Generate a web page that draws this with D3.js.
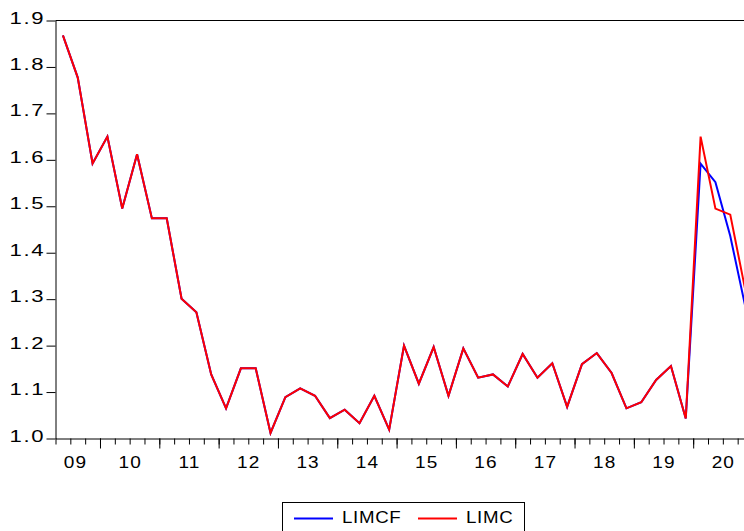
<!DOCTYPE html>
<html>
<head>
<meta charset="utf-8">
<script src="https://cdn.jsdelivr.net/npm/d3@7"></script>
<style>
  body { margin: 0; background: #fff; overflow: hidden; }
  svg text { font-family: Arial, "Liberation Sans", sans-serif; font-size: 17px; fill: #000; }
</style>
</head>
<body>
<svg id="chart"></svg>
<script>
// quarterly series, 2009Q2 .. 2020Q4
var quarters = ["2009Q2","2009Q3","2009Q4",
  "2010Q1","2010Q2","2010Q3","2010Q4",
  "2011Q1","2011Q2","2011Q3","2011Q4",
  "2012Q1","2012Q2","2012Q3","2012Q4",
  "2013Q1","2013Q2","2013Q3","2013Q4",
  "2014Q1","2014Q2","2014Q3","2014Q4",
  "2015Q1","2015Q2","2015Q3","2015Q4",
  "2016Q1","2016Q2","2016Q3","2016Q4",
  "2017Q1","2017Q2","2017Q3","2017Q4",
  "2018Q1","2018Q2","2018Q3","2018Q4",
  "2019Q1","2019Q2","2019Q3","2019Q4",
  "2020Q1","2020Q2","2020Q3","2020Q4"]

var limc = [1.868,1.777,1.592,
  1.650,1.495,1.612,1.474,
  1.474,1.301,1.272,1.138,
  1.065,1.151,1.151,1.012,
  1.089,1.108,1.092,1.044,
  1.062,1.033,1.092,1.019,
  1.200,1.118,1.197,1.092,
  1.194,1.131,1.138,1.112,
  1.182,1.131,1.162,1.068,
  1.160,1.184,1.141,1.065,
  1.078,1.126,1.156,1.043,
  1.650,1.495,1.482,1.322]

var limcf = [1.868,1.777,1.592,
  1.650,1.495,1.612,1.474,
  1.474,1.301,1.272,1.138,
  1.065,1.151,1.151,1.012,
  1.089,1.108,1.092,1.044,
  1.062,1.033,1.092,1.019,
  1.200,1.118,1.197,1.092,
  1.194,1.131,1.138,1.112,
  1.182,1.131,1.162,1.068,
  1.160,1.184,1.141,1.065,
  1.078,1.126,1.156,1.043,
  1.592,1.552,1.436,1.286]

var yearLabels = ["09","10","11","12","13","14","15","16","17","18","19","20"]
var yTicks = [1.0,1.1,1.2,1.3,1.4,1.5,1.6,1.7,1.8,1.9]

var seriesNames = ["LIMCF","LIMC"]
var seriesColors = ["#0000ff","#ff0000"]

var screen = {width:744, height:531}
var plot = {left:55.5, top:20.5, right:752.5, bottom:438.5}

var svg = d3.select("#chart")
    .attr("width", screen.width)
    .attr("height", screen.height)

// one unit per quarter, points sit in the middle of their quarter
var xScale = d3.scaleLinear()
    .domain([0, quarters.length])
    .range([plot.left, plot.right])
var yScale = d3.scaleLinear()
    .domain([1.0, 1.9])
    .range([plot.bottom, plot.top])

// the source font is drawn wider than Arial, so stretch text a bit
var wide = function(sel, x, y, sx) {
    sel.attr("x", 0).attr("y", 0)
       .attr("transform", "translate(" + x + "," + y + ") scale(" + sx + ",1)")
}

// top frame line
svg.append("line")
    .attr("x1", plot.left).attr("x2", plot.right)
    .attr("y1", plot.top).attr("y2", plot.top)
    .attr("stroke", "#000").attr("stroke-width", 1)

// y axis
var yAxis = d3.axisLeft(yScale)
    .tickValues(yTicks)
    .tickFormat(d3.format(".1f"))
    .tickSize(9)
    .tickSizeOuter(0)
var yg = svg.append("g")
    .attr("transform", "translate(" + plot.left + ",0)")
    .call(yAxis)
yg.selectAll("text")
    .style("font-size", "17px")
    .style("font-family", "Arial, 'Liberation Sans', sans-serif")
    .style("letter-spacing", "1.2px")
    .attr("dy", "0.15em")
    .call(wide, -10.5, 0, 1.3)

// x axis: quarter ticks (short), year ticks (long)
var quarterIdx = d3.range(0, quarters.length + 1)
var yearStart = quarterIdx.filter(function(i) {
    return i < quarters.length && quarters[i].slice(4) == "Q1"
})
var xg = svg.append("g")
    .attr("transform", "translate(0," + plot.bottom + ")")
xg.call(d3.axisBottom(xScale)
    .tickValues(quarterIdx)
    .tickSize(6)
    .tickSizeOuter(0)
    .tickFormat(""))
xg.append("g").call(d3.axisBottom(xScale)
    .tickValues(yearStart)
    .tickSize(10)
    .tickSizeOuter(0)
    .tickFormat(""))
    .select(".domain").remove()

// year labels centred on each year (first year is only partly shown)
var labels = svg.append("g")
yearLabels.forEach(function(lab, k) {
    var start = k == 0 ? yearStart[0] - 4 : yearStart[k - 1]
    var cx = xScale(start + 2)
    if (k == 0) cx = (cx + xScale(0) + (xScale(yearStart[0]) - xScale(0)) / 2) / 2 + 1
    labels.append("text")
        .text(lab)
        .attr("text-anchor", "middle")
        .style("letter-spacing", "1px")
        .call(wide, cx + 0.5, 468, 1.12)
})

// lines
var line = d3.line()
    .x(function(d, i) { return xScale(i + 0.5) })
    .y(function(d) { return yScale(d) })

var series = [limcf, limc]
svg.append("g")
    .selectAll("path")
    .data(series)
    .enter()
    .append("path")
    .attr("d", line)
    .attr("fill", "none")
    .attr("stroke", function(d, i) { return seriesColors[i] })
    .attr("stroke-width", 2)
    .attr("stroke-linejoin", "miter")

// legend
var legend = svg.append("g")
legend.append("rect")
    .attr("x", 282.5).attr("y", 502.5)
    .attr("width", 242).attr("height", 40)
    .attr("fill", "#fff").attr("stroke", "#000").attr("stroke-width", 1)
var legendX = [294, 418]
seriesNames.forEach(function(name, i) {
    legend.append("line")
        .attr("x1", legendX[i]).attr("x2", legendX[i] + 39)
        .attr("y1", 518.5).attr("y2", 518.5)
        .attr("stroke", seriesColors[i]).attr("stroke-width", 2)
    legend.append("text")
        .text(name)
        .style("letter-spacing", "0.6px")
        .call(wide, legendX[i] + 48, 522.5, 1.1)
})
</script>
</body>
</html>
